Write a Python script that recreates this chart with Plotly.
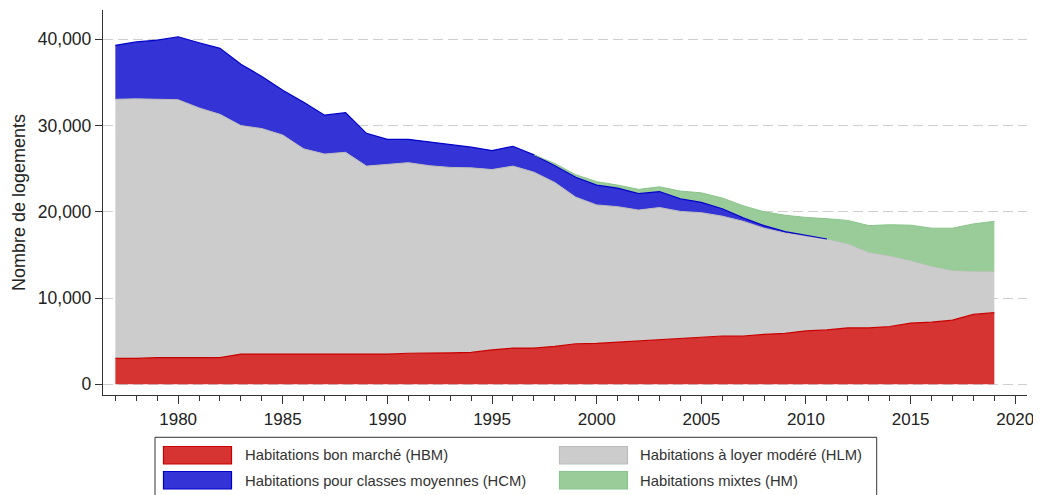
import numpy as np
import plotly.graph_objects as go

# ---------------- data ----------------
years = list(range(1977, 2020))
hbm = [3000, 3000, 3100, 3100, 3100, 3100, 3500, 3500, 3500, 3500,
       3500, 3500, 3500, 3500, 3600, 3600, 3650, 3700, 4000, 4200,
       4200, 4400, 4700, 4750, 4900, 5000, 5150, 5350, 5500, 5600,
       5600, 5800, 5900, 6200, 6300, 6550, 6550, 6700, 7100, 7200,
       7450, 8100, 8300]
hlm = [30050, 30100, 29950, 29900, 28950, 28200, 26500, 26150, 25400, 23800,
       23200, 23400, 21800, 22000, 22100, 21750, 21500, 21400, 20900, 21100,
       20400, 19000, 17000, 16050, 15700, 15200, 15350, 14700, 14400, 13900,
       13300, 12300, 11650, 11000, 10550, 9750, 8750, 8200, 7250, 6500,
       5750, 5000, 4800]
hcm = [6250, 6600, 6850, 7300, 7550, 7650, 7100, 6050, 5200, 5400,
       4500, 4600, 3800, 2900, 2700, 2750, 2650, 2400, 2200, 2300,
       2000, 1950, 2300, 2300, 2150, 1900, 1850, 1450, 1200, 850,
       400, 300, 150, 50, 0, 0, 0, 0, 0, 0,
       0, 0, 0]
hm = [0, 0, 0, 0, 0, 0, 0, 0, 0, 0,
      0, 0, 0, 0, 0, 0, 0, 0, 0, 0,
      0, 250, 300, 400, 350, 500, 550, 900, 1100, 1250,
      1400, 1600, 1900, 2100, 2350, 2700, 3100, 3600, 4100, 4400,
      4900, 5500, 5800]
series_names = ["Habitations bon marché (HBM)", "Habitations à loyer modéré (HLM)",
                "Habitations pour classes moyennes (HCM)", "Habitations mixtes (HM)"]
y_ticks = [0, 10000, 20000, 30000, 40000]
x_ticks = [1980, 1985, 1990, 1995, 2000, 2005, 2010, 2015, 2020]

# ---------------- styling ----------------
FONT = "Liberation Sans, Arial, sans-serif"
fills = ["#d63333", "#cccccc", "#3333d6", "#99cc99"]
edges = ["#c80000", "#bdbdbd", "#0000c8", "#8cc48c"]

# the page body has an 8px margin: work in page pixels and shift
OFF = 8
W, H = 1041 - OFF, 495 - OFF
L, T, R, B = 103, 10, 1027, 395  # page pixels of the plot area


def px(x):
    return (x - L) / (R - L)


def py(y):
    return (B - y) / (B - T)


fig = go.Figure()
data = [hbm, hlm, hcm, hm]
line_w = [1.2, 1.0, 0, 0]
for i, (vals, name) in enumerate(zip(data, series_names)):
    fig.add_trace(go.Scatter(
        x=years, y=vals, name=name, mode="lines", stackgroup="one",
        fillcolor=fills[i],
        line=dict(color=edges[i] if line_w[i] > 0 else fills[i], width=line_w[i]),
        showlegend=False, hoverinfo="skip",
    ))

# outlines of the upper two bands (only where the band exists)
yrs = np.array(years)
cum_hcm = np.array(hbm) + np.array(hlm) + np.array(hcm)
cum_hm = cum_hcm + np.array(hm)
last = int(np.where(np.array(hcm) > 0)[0].max()) + 1
fig.add_trace(go.Scatter(x=yrs[:last + 1], y=cum_hcm[:last + 1], mode="lines",
                         line=dict(color=edges[2], width=1.2),
                         showlegend=False, hoverinfo="skip"))
first = int(np.where(np.array(hm) > 0)[0].min()) - 1
fig.add_trace(go.Scatter(x=yrs[first:], y=cum_hm[first:], mode="lines",
                         line=dict(color=edges[3], width=1.0),
                         showlegend=False, hoverinfo="skip"))

# ---------------- custom legend ----------------
shapes = [dict(type="rect", xref="paper", yref="paper",
               x0=px(155), x1=px(876.7), y0=py(437.3), y1=py(540),
               line=dict(color="#333333", width=1), fillcolor="rgba(0,0,0,0)")]
annotations = []
sw = [(163.5, 446.5), (559.5, 446.5), (163.5, 471.5), (559.5, 471.5)]
tx = {163.5: 242.5, 559.5: 637.5}
for k, (sx, sy) in enumerate(sw):
    shapes.append(dict(type="rect", xref="paper", yref="paper",
                       x0=px(sx), x1=px(sx + 68), y0=py(sy), y1=py(sy + 17.5),
                       line=dict(color=edges[k], width=1.2), fillcolor=fills[k]))
    annotations.append(dict(xref="paper", yref="paper", x=px(tx[sx]), y=py(sy + 9),
                            xanchor="left", yanchor="middle", showarrow=False,
                            text=series_names[k],
                            font=dict(family=FONT, size=14.8, color="#333333")))

fig.update_layout(
    width=W, height=H,
    margin=dict(l=L - OFF, r=W - (R - OFF), t=T - OFF, b=H - (B - OFF), pad=0,
                autoexpand=False),
    paper_bgcolor="white", plot_bgcolor="white",
    font=dict(family=FONT, color="#222222"),
    shapes=shapes, annotations=annotations,
    showlegend=False,
)
fig.update_xaxes(
    range=[1976.41, 2020.56], tickvals=x_ticks, ticktext=[str(v) for v in x_ticks],
    showgrid=False, zeroline=False,
    showline=True, linecolor="#333333", linewidth=1.3,
    ticks="outside", ticklen=8, tickwidth=1.2, tickcolor="#333333",
    tickfont=dict(family=FONT, size=17, color="#222222"),
    minor=dict(dtick=1, tick0=1977, ticks="outside", ticklen=5, tickwidth=1.1,
               tickcolor="#333333", showgrid=False),
)
fig.update_yaxes(
    range=[-1240, 43400], tickvals=y_ticks, tickformat=",",
    showgrid=True, gridcolor="#cfcfcf", gridwidth=1.2, griddash="10px,5px",
    zeroline=False,
    showline=True, linecolor="#333333", linewidth=1.3,
    ticks="outside", ticklen=7, tickwidth=1.2, tickcolor="#333333",
    tickfont=dict(family=FONT, size=17.5, color="#222222"),
    title=dict(text="Nombre de logements", standoff=7,
               font=dict(family=FONT, size=18, color="#222222")),
)

fig.write_html("out.html")
